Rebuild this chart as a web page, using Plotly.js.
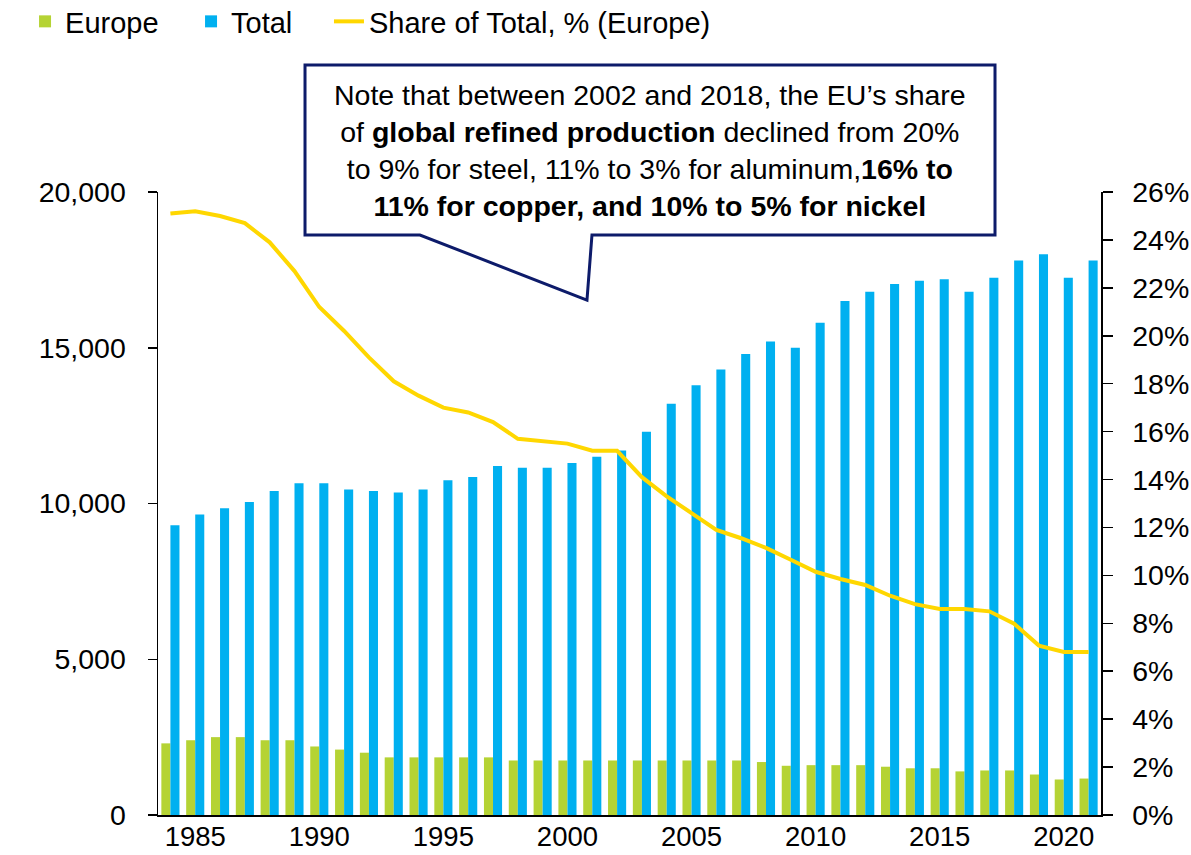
<!DOCTYPE html>
<html>
<head>
<meta charset="utf-8">
<script src="https://cdn.plot.ly/plotly-3.0.1.min.js"></script>
<style>html,body{margin:0;padding:0;background:#fff;}#chart{width:1191px;height:855px;}</style>
</head>
<body>
<div id="chart"></div>
<script>
const years = [1984,1985,1986,1987,1988,1989,1990,1991,1992,1993,1994,1995,1996,1997,1998,1999,2000,2001,2002,2003,2004,2005,2006,2007,2008,2009,2010,2011,2012,2013,2014,2015,2016,2017,2018,2019,2020,2021];
const europe = [2300,2400,2500,2500,2400,2400,2200,2100,2000,1850,1850,1850,1850,1850,1750,1750,1750,1750,1750,1750,1750,1750,1750,1750,1700,1580,1600,1600,1600,1550,1500,1500,1400,1430,1430,1300,1140,1170];
const total = [9300,9650,9850,10050,10400,10650,10650,10450,10400,10350,10450,10750,10850,11200,11150,11150,11300,11500,11700,12300,13200,13800,14300,14800,15200,15000,15800,16500,16800,17050,17150,17200,16800,17250,17800,18000,17250,17800];
const sharePct = [25.1,25.2,25.0,24.7,23.9,22.7,21.2,20.2,19.1,18.1,17.5,17.0,16.8,16.4,15.7,15.6,15.5,15.2,15.2,14.1,13.3,12.6,11.9,11.55,11.15,10.65,10.15,9.85,9.6,9.15,8.8,8.6,8.6,8.5,7.98,7.07,6.8,6.8];
const xTicks = [1985,1990,1995,2000,2005,2010,2015,2020];
const leftTicks = [0,5000,10000,15000,20000];
const rightTicks = [0,2,4,6,8,10,12,14,16,18,20,22,24,26];
const noteText = "Note that between 2002 and 2018, the EU’s share<br>of <b>global refined production</b> declined from 20%<br>to 9% for steel, 11% to 3% for aluminum,<b>16% to</b><br><b>11% for copper, and 10% to 5% for nickel</b>";

const FONT = "Liberation Sans, Arial, sans-serif";
const FS = 28.5;
const traces = [
  {type:'bar', name:'Europe', x:years, y:europe, marker:{color:'#b5d334'}, yaxis:'y', legend:'legend'},
  {type:'bar', name:'Total', x:years, y:total, marker:{color:'#00b0f0'}, yaxis:'y', legend:'legend'},
  {type:'scatter', mode:'lines', name:'Share of Total, % (Europe)', x:years, y:sharePct, yaxis:'y2', legend:'legend2', line:{color:'#ffd700', width:4}}
];

// layout geometry (pixels -> paper)
const L = 158, R = 90, T = 192, B = 40, W = 1191, H = 855;
const pw = W - L - R, ph = H - T - B;
const px = v => ((v - L) / pw).toFixed(4);
const py = v => ((H - B - v) / ph).toFixed(4);
const calloutPath = `M ${px(305)},${py(65)} L ${px(995)},${py(65)} L ${px(995)},${py(235)} L ${px(592)},${py(235)} L ${px(587)},${py(300)} L ${px(420)},${py(235)} L ${px(305)},${py(235)} Z`;

const legendFont = {family: FONT, size: 29, color: '#000'};
const layout = {
  width: W, height: H,
  margin: {l: L, r: R, t: T, b: B, pad: 0, autoexpand: false},
  paper_bgcolor: '#fff', plot_bgcolor: '#fff',
  font: {family: FONT, size: FS, color: '#000'},
  barmode: 'group', bargap: 0.27, bargroupgap: 0,
  showlegend: true,
  legend: {orientation: 'h', x: px(25), xanchor: 'left', y: py(-4), yanchor: 'top',
           entrywidthmode: 'pixels', entrywidth: 121,
           font: legendFont, bgcolor: 'rgba(0,0,0,0)', traceorder: 'normal'},
  legend2: {orientation: 'h', x: px(329), xanchor: 'left', y: py(-4), yanchor: 'top',
           font: legendFont, bgcolor: 'rgba(0,0,0,0)'},
  xaxis: {range: [1983.5, 2021.5], tickmode: 'array', tickvals: xTicks, ticktext: xTicks.map(String),
          automargin: false,
          showgrid: false, zeroline: false, showline: true, linecolor: '#000', linewidth: 2,
          ticks: '', tickfont: {family: FONT, size: 27.5, color: '#000'}, ticklabelstandoff: -4},
  yaxis: {range: [0, 20000], tickmode: 'array', tickvals: leftTicks, tickformat: ',',
          automargin: false,
          showgrid: false, zeroline: false, showline: true, linecolor: '#000', linewidth: 1.5,
          ticks: 'outside', ticklen: 9, tickwidth: 1.5, tickcolor: '#000',
          tickfont: {family: FONT, size: FS, color: '#000'}, ticklabelstandoff: 16},
  yaxis2: {range: [0, 26], overlaying: 'y', side: 'right', tickmode: 'array', tickvals: rightTicks,
           ticktext: rightTicks.map(v => v + '%'), automargin: false,
           showgrid: false, zeroline: false, showline: true, linecolor: '#000', linewidth: 1.5,
           ticks: 'outside', ticklen: 10, tickwidth: 1.5, tickcolor: '#000',
           tickfont: {family: FONT, size: FS, color: '#000'}, ticklabelstandoff: 14},
  shapes: [
    {type: 'path', xref: 'paper', yref: 'paper', path: calloutPath,
     fillcolor: '#ffffff', line: {color: '#0d1b6a', width: 3}, layer: 'above'}
  ],
  annotations: [
    {xref: 'paper', yref: 'paper', x: px(650), y: py(150), xanchor: 'center', yanchor: 'middle',
     text: noteText, showarrow: false, align: 'center',
     font: {family: FONT, size: 28.5, color: '#000'}}
  ]
};

Plotly.newPlot('chart', traces, layout, {displayModeBar: false, staticPlot: true});
</script>
</body>
</html>
